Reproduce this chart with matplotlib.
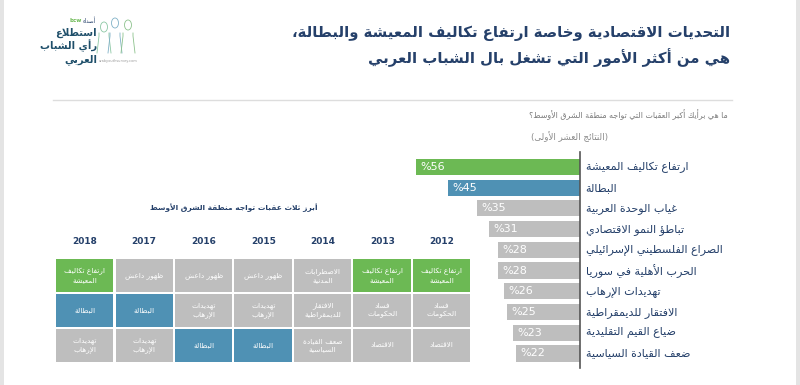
import matplotlib
matplotlib.use('Agg')
import matplotlib.pyplot as plt
from matplotlib.patches import Ellipse

plt.rcParams['font.family'] = ['DejaVu Sans']

# ========================
# 数据
# ========================
bar_labels = ['ارتفاع تكاليف المعيشة', 'البطالة', 'غياب الوحدة العربية',
              'تباطؤ النمو الاقتصادي', 'الصراع الفلسطيني الإسرائيلي',
              'الحرب الأهلية في سوريا', 'تهديدات الإرهاب',
              'الافتقار للديمقراطية', 'ضياع القيم التقليدية',
              'ضعف القيادة السياسية']
bar_values = [56, 45, 35, 31, 28, 28, 26, 25, 23, 22]

years = ['2018', '2017', '2016', '2015', '2014', '2013', '2012']
top1 = ['ارتفاع تكاليف\nالمعيشة', 'ظهور داعش', 'ظهور داعش', 'ظهور داعش',
        'الاضطرابات\nالمدنية', 'ارتفاع تكاليف\nالمعيشة', 'ارتفاع تكاليف\nالمعيشة']
top2 = ['البطالة', 'البطالة', 'تهديدات\nالإرهاب', 'تهديدات\nالإرهاب',
        'الافتقار\nللديمقراطية', 'فساد\nالحكومات', 'فساد\nالحكومات']
top3 = ['تهديدات\nالإرهاب', 'تهديدات\nالإرهاب', 'البطالة', 'البطالة',
        'ضعف القيادة\nالسياسية', 'الاقتصاد', 'الاقتصاد']

title_lines = ['التحديات الاقتصادية وخاصة ارتفاع تكاليف المعيشة والبطالة،',
               'هي من أكثر الأمور التي تشغل بال الشباب العربي']
question = 'ما هي برأيك أكبر العقبات التي تواجه منطقة الشرق الأوسط؟'
subtitle = '(النتائج العشر الأولى)'
grid_title = 'أبرز ثلاث عقبات تواجه منطقة الشرق الأوسط'

GREEN = '#6cb954'
BLUE = '#4f91b4'
GRAY = '#bebebe'
NAVY = '#25406a'

# ========================
# 阿拉伯文字形连接（matplotlib 不做 shaping）
# ========================
AR_FORMS = {
    'ء': (0xFE80, 1), 'آ': (0xFE81, 2), 'أ': (0xFE83, 2), 'ؤ': (0xFE85, 2),
    'إ': (0xFE87, 2), 'ئ': (0xFE89, 4), 'ا': (0xFE8D, 2), 'ب': (0xFE8F, 4),
    'ة': (0xFE93, 2), 'ت': (0xFE95, 4), 'ث': (0xFE99, 4), 'ج': (0xFE9D, 4),
    'ح': (0xFEA1, 4), 'خ': (0xFEA5, 4), 'د': (0xFEA9, 2), 'ذ': (0xFEAB, 2),
    'ر': (0xFEAD, 2), 'ز': (0xFEAF, 2), 'س': (0xFEB1, 4), 'ش': (0xFEB5, 4),
    'ص': (0xFEB9, 4), 'ض': (0xFEBD, 4), 'ط': (0xFEC1, 4), 'ظ': (0xFEC5, 4),
    'ع': (0xFEC9, 4), 'غ': (0xFECD, 4), 'ف': (0xFED1, 4), 'ق': (0xFED5, 4),
    'ك': (0xFED9, 4), 'ل': (0xFEDD, 4), 'م': (0xFEE1, 4), 'ن': (0xFEE5, 4),
    'ه': (0xFEE9, 4), 'و': (0xFEED, 2), 'ى': (0xFEEF, 2), 'ي': (0xFEF1, 4),
}
LAM_ALEF = {'ا': 0xFEFB, 'أ': 0xFEF7, 'إ': 0xFEF9, 'آ': 0xFEF5}


def _dual(c):
    return c in AR_FORMS and AR_FORMS[c][1] == 4


def _joinable(c):
    return c in AR_FORMS and AR_FORMS[c][1] >= 2


def shape_line(text):
    out = []
    i, n = 0, len(text)
    while i < n:
        c = text[i]
        prev = text[i - 1] if i > 0 else ''
        link_prev = _dual(prev) and _joinable(c)
        if c == 'ل' and i + 1 < n and text[i + 1] in LAM_ALEF:
            out.append(chr(LAM_ALEF[text[i + 1]] + (1 if link_prev else 0)))
            i += 2
            continue
        if c in AR_FORMS:
            base, nf = AR_FORMS[c]
            nxt = text[i + 1] if i + 1 < n else ''
            link_next = nf == 4 and _joinable(nxt)
            if nf == 1:
                off = 0
            elif link_prev and link_next:
                off = 3
            elif link_next:
                off = 2
            elif link_prev:
                off = 1
            else:
                off = 0
            out.append(chr(base + off))
        else:
            out.append(c)
        i += 1
    vis = ''.join(reversed(out))
    return vis.translate(str.maketrans('()', ')('))


def ar(text):
    return '\n'.join(shape_line(t) for t in text.split('\n'))


def cell_color(t):
    if 'المعيشة' in t:
        return GREEN
    if t == 'البطالة':
        return BLUE
    return GRAY


# ========================
# 画布
# ========================
W, H = 800, 385
fig = plt.figure(figsize=(W / 100, H / 100), dpi=100)
fig.patch.set_facecolor('white')


def px_axes(x0, y0, x1, y1):
    # 像素坐标（左上为原点）转为 figure 坐标
    return fig.add_axes([x0 / W, 1 - y1 / H, (x1 - x0) / W, (y1 - y0) / H])


bg = px_axes(0, 0, W, H)
bg.set_xlim(0, W)
bg.set_ylim(H, 0)
bg.axis('off')

# 边框
bg.axvspan(0, 4, color='#e4e4e4', lw=0)
bg.axvspan(796, 800, color='#e4e4e4', lw=0)
bg.plot([53, 732], [100, 100], color='#dddddd', lw=1)

# 标题
bg.text(730, 33, ar(title_lines[0]), ha='right', va='center', fontsize=10.7,
        fontweight='bold', color=NAVY)
bg.text(730, 58, ar(title_lines[1]), ha='right', va='center', fontsize=10.7,
        fontweight='bold', color=NAVY)

# logo
bg.text(96, 21, ar('أصداء'), ha='right', va='center', fontsize=4,
        color=NAVY)
bg.text(82, 21, 'bcw', ha='right', va='center', fontsize=4,
        color=GREEN, fontweight='bold')
for yy, t in [(33, 'استطلاع'), (46, 'رأي الشباب'), (60, 'العربي')]:
    bg.text(97, yy, ar(t), ha='right', va='center', fontsize=7.2,
            fontweight='bold', color='#1f4f6a')
bg.text(118, 61, 'arabyouthsurvey.com', ha='center', va='center',
        fontsize=2.5, color='#999999')
for cx, cy, col in [(104, 27, '#8cc7a4'), (115, 23, '#7fb0c6'),
                    (128, 25, '#8cc28c')]:
    bg.add_patch(Ellipse((cx, cy), 7, 10, fill=False, ec=col, lw=0.6))
    bg.plot([cx - 7, cx - 5, cx - 5], [53, 36, 33], color=col, lw=0.6)
    bg.plot([cx + 7, cx + 5, cx + 5], [53, 36, 33], color=col, lw=0.6)

# 问题
bg.text(728, 115, ar(question), ha='right', va='center', fontsize=5.7,
        color='#7a7a7a')
bg.text(608, 137, ar(subtitle), ha='right', va='center', fontsize=6.3,
        color='#8a8a8a')

# ========================
# 条形图
# ========================
ax = px_axes(580 - 60 * 2.93, 152, 580, 368)
ypos = list(range(len(bar_values)))
colors = [GREEN, BLUE] + [GRAY] * (len(bar_values) - 2)
ax.barh(ypos, bar_values, height=0.78, color=colors)
ax.set_xlim(60, 0)
ax.set_ylim(9.7, -0.72)
for s in ['top', 'left', 'bottom']:
    ax.spines[s].set_visible(False)
ax.spines['right'].set_color('#555555')
ax.spines['right'].set_linewidth(1.2)
ax.set_xticks([])
ax.set_yticks([])
ax.patch.set_alpha(0)
for y, v, lab in zip(ypos, bar_values, bar_labels):
    ax.text(v - 1.5, y, f'%{v}', ha='left', va='center', fontsize=8,
            color='white')
    ax.annotate(ar(lab), xy=(0, y), xytext=(4, 0), textcoords='offset points',
                ha='left', va='center', fontsize=8, color=NAVY)

# ========================
# 年度表格
# ========================
gx = px_axes(56, 259, 56 + 59.5 * 7, 259 + 35 * 3)
gx.set_xlim(0, 7)
gx.set_ylim(3, 0)
gx.axis('off')
for r, row in enumerate([top1, top2, top3]):
    cols = list(range(len(years)))
    gx.bar(cols, [0.945] * len(cols), bottom=r, width=0.966, align='edge',
           color=[cell_color(t) for t in row])
    for c, t in zip(cols, row):
        gx.text(c + 0.483, r + 0.47, ar(t), ha='center', va='center',
                fontsize=5.3, color='white', linespacing=1.4)
for c, yr in enumerate(years):
    gx.text(c + 0.483, -0.5, yr, ha='center', va='center', fontsize=6.5,
            fontweight='bold', color=NAVY)

bg.text(234, 208, ar(grid_title), ha='center', va='center', fontsize=5.4,
        fontweight='bold', color=NAVY)

plt.savefig('out.png', dpi=100)
